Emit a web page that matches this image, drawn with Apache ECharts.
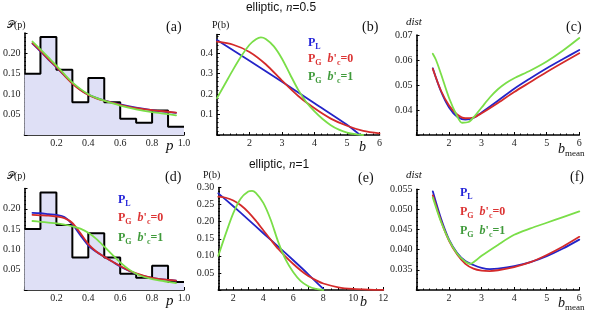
<!DOCTYPE html>
<html><head><meta charset="utf-8">
<script src="https://cdn.jsdelivr.net/npm/echarts@6/dist/echarts.min.js"></script>
<style>html,body{margin:0;padding:0;background:#fff}#c{width:600px;height:313px}</style>
</head><body><div id="c"></div>
<script>
// ---------- DATA ----------
const histLeft = [0, 0.1, 0.2, 0.3, 0.4, 0.5, 0.6, 0.7, 0.8, 0.9];
const histRight = 1.0;
const histValues = [0.15, 0.24, 0.16, 0.08, 0.14, 0.08, 0.04, 0.03, 0.06, 0.02];

// panel (a)
const aX = [0.05, 0.1, 0.15, 0.2, 0.25, 0.3, 0.35, 0.4, 0.45, 0.5, 0.6, 0.7, 0.8, 0.9, 0.95];
const aBlue = [0.224, 0.205, 0.185, 0.166, 0.146, 0.127, 0.111, 0.099, 0.091, 0.085, 0.075, 0.067, 0.061, 0.056, 0.054];
const aRed = [0.225, 0.206, 0.186, 0.167, 0.146, 0.126, 0.110, 0.098, 0.090, 0.084, 0.074, 0.066, 0.061, 0.057, 0.055];
const aGreen = [0.229, 0.210, 0.190, 0.170, 0.149, 0.129, 0.113, 0.100, 0.091, 0.084, 0.072, 0.063, 0.056, 0.051, 0.048];

// panel (b)
const bXBlue = [1, 2, 3, 4, 5, 5.4];
const bBlue = [0.463, 0.362, 0.26, 0.155, 0.05, 0.0];
const bXRed = [1, 1.5, 2, 2.5, 3, 3.5, 4, 4.5, 5, 5.5, 6];
const bRed = [0.455, 0.44, 0.405, 0.345, 0.265, 0.19, 0.13, 0.08, 0.045, 0.02, 0.008];
const bXGreen = [1, 1.25, 1.5, 1.75, 2, 2.2, 2.35, 2.5, 2.75, 3, 3.25, 3.5, 3.75, 4, 4.25, 4.5, 4.75, 5, 5.25, 5.5];
const bGreen = [0.18, 0.25, 0.32, 0.385, 0.44, 0.467, 0.476, 0.468, 0.432, 0.372, 0.295, 0.22, 0.16, 0.115, 0.078, 0.048, 0.026, 0.012, 0.004, 0.0];

// panel (c)
const cX = [1.5, 1.75, 2, 2.25, 2.5, 2.75, 3, 3.5, 4, 4.5, 5, 5.5, 6];
const cBlue = [0.0567, 0.0475, 0.0410, 0.0373, 0.0362, 0.0368, 0.0390, 0.0437, 0.0485, 0.0527, 0.0567, 0.0604, 0.0640];
const cRed = [0.0565, 0.0478, 0.0418, 0.0382, 0.0367, 0.0370, 0.0387, 0.0428, 0.0472, 0.0512, 0.0552, 0.0590, 0.0627];
const cXGreen = [1.5, 1.6, 1.75, 2, 2.25, 2.4, 2.6, 2.8, 3, 3.25, 3.5, 3.75, 4, 4.5, 5, 5.5, 6];
const cGreen = [0.0625, 0.0600, 0.0545, 0.0448, 0.0375, 0.0349, 0.0352, 0.0378, 0.0410, 0.0450, 0.0483, 0.0508, 0.0527, 0.0558, 0.0594, 0.0638, 0.0688];

// panel (d)
const dX = [0.05, 0.1, 0.15, 0.2, 0.25, 0.3, 0.35, 0.4, 0.45, 0.5, 0.55, 0.6, 0.65, 0.7, 0.75, 0.8, 0.85, 0.9, 0.95];
const dBlue = [0.190, 0.189, 0.187, 0.185, 0.180, 0.162, 0.135, 0.110, 0.094, 0.082, 0.070, 0.058, 0.048, 0.040, 0.034, 0.030, 0.027, 0.025, 0.023];
const dRed = [0.185, 0.184, 0.183, 0.181, 0.177, 0.165, 0.140, 0.113, 0.095, 0.082, 0.070, 0.059, 0.049, 0.041, 0.035, 0.030, 0.027, 0.025, 0.023];
const dGreen = [0.170, 0.168, 0.166, 0.164, 0.161, 0.157, 0.151, 0.141, 0.126, 0.107, 0.087, 0.068, 0.052, 0.040, 0.032, 0.027, 0.023, 0.020, 0.017];

// panel (e)
const eXBlue = [1, 2, 3, 4, 5, 6, 7, 8];
const eBlue = [0.283, 0.245, 0.206, 0.166, 0.127, 0.087, 0.046, 0.003];
const eXRed = [1, 1.5, 2, 2.5, 3, 3.5, 4, 4.5, 5, 5.5, 6, 6.5, 7, 7.5, 8, 9, 10, 11, 12];
const eRed = [0.273, 0.270, 0.262, 0.248, 0.228, 0.203, 0.175, 0.147, 0.120, 0.097, 0.076, 0.057, 0.041, 0.029, 0.019, 0.008, 0.003, 0.001, 0.0003];
const eXGreen = [1, 1.5, 2, 2.5, 3, 3.25, 3.5, 4, 4.5, 5, 5.5, 6, 6.5, 7, 7.5, 8];
const eGreen = [0.100, 0.165, 0.225, 0.268, 0.288, 0.290, 0.284, 0.255, 0.205, 0.140, 0.088, 0.052, 0.026, 0.011, 0.003, 0.0];

// panel (f)
const fX = [1.5, 1.75, 2, 2.25, 2.5, 2.75, 3, 3.25, 3.5, 4, 4.5, 5, 5.5, 6];
const fBlue = [0.0545, 0.0478, 0.0425, 0.0392, 0.0372, 0.0362, 0.0355, 0.0352, 0.0353, 0.0359, 0.0369, 0.0384, 0.0403, 0.0425];
const fRed = [0.0535, 0.0472, 0.0422, 0.0388, 0.0365, 0.0353, 0.0348, 0.0347, 0.0349, 0.0357, 0.0369, 0.0387, 0.0408, 0.0432];
const fXGreen = [1.5, 1.75, 2, 2.25, 2.5, 2.65, 2.8, 3, 3.5, 4, 4.5, 5, 5.5, 6];
const fGreen = [0.0530, 0.0470, 0.0423, 0.0390, 0.0370, 0.0365, 0.0372, 0.0385, 0.0412, 0.0437, 0.0453, 0.0467, 0.0481, 0.0495];

// tick labels
const xLabelsP = [0.2, 0.4, 0.6, 0.8, 1.0];
const xLabelsB = [2, 3, 4, 5, 6];
const xLabelsE = [2, 4, 6, 8, 10, 12];
const yLabelsP = [0.05, 0.10, 0.15, 0.20];
const yLabelsB = [0.1, 0.2, 0.3, 0.4];
const yLabelsC = [0.04, 0.05, 0.06, 0.07];
const yLabelsE = [0.05, 0.10, 0.15, 0.20, 0.25, 0.30];
const yLabelsF = [0.035, 0.040, 0.045, 0.050, 0.055];

// ---------- STYLE ----------
const BLUE = '#2424c8', RED = '#d42a2a', GREEN = '#7ade48';
const TBLUE = '#2222d8', TRED = '#dc3434', TGREEN = '#3f9a3a';
const SERIF = '"Liberation Serif","DejaVu Serif",serif';
const SANS = '"Liberation Sans","DejaVu Sans",sans-serif';

const grids = [
  {left: 24, top: 33, width: 160, height: 102},
  {left: 217, top: 34.5, width: 162.5, height: 100.5},
  {left: 416.5, top: 35, width: 162.8, height: 100},
  {left: 24, top: 188.5, width: 160, height: 101.5},
  {left: 218.3, top: 187.5, width: 165, height: 102.5},
  {left: 416.5, top: 189.3, width: 162.8, height: 100.7}
];

function fmt(labels, dec) {
  return function (v) {
    for (const l of labels) if (Math.abs(l - v) < 1e-9) return l.toFixed(dec);
    return '';
  };
}
function axis(kind, i, min, max, interval, labels, dec, minorSplit) {
  return {
    type: 'value', gridIndex: i, min, max, interval,
    axisLine: {show: true, onZero: false, lineStyle: {color: '#000', width: 1.6}},
    axisTick: {show: true, inside: true, length: 3, lineStyle: {color: '#000', width: 1}},
    minorTick: {show: true, splitNumber: minorSplit, length: 1.5, lineStyle: {color: '#000', width: 1}},
    splitLine: {show: false},
    axisLabel: {
      show: true, formatter: fmt(labels, dec), fontFamily: SERIF, fontSize: 10,
      color: '#222', margin: kind === 'x' ? 3 : 4, showMinLabel: true, showMaxLabel: true
    }
  };
}
const xAxes = [
  axis('x', 0, 0, 1.0, 0.1, xLabelsP, 1, 2),
  axis('x', 1, 1, 6, 1, xLabelsB, 0, 5),
  axis('x', 2, 1, 6, 1, xLabelsB, 0, 5),
  axis('x', 3, 0, 1.0, 0.1, xLabelsP, 1, 2),
  axis('x', 4, 1, 12, 1, xLabelsE, 0, 2),
  axis('x', 5, 1, 6, 1, xLabelsB, 0, 5)
];
const yAxes = [
  axis('y', 0, 0, 0.25, 0.05, yLabelsP, 2, 5),
  axis('y', 1, 0, 0.49, 0.1, yLabelsB, 1, 5),
  axis('y', 2, 0.03, 0.07, 0.01, yLabelsC, 2, 5),
  axis('y', 3, 0, 0.25, 0.05, yLabelsP, 2, 5),
  axis('y', 4, 0, 0.30, 0.05, yLabelsE, 2, 5),
  axis('y', 5, 0.030, 0.055, 0.005, yLabelsF, 3, 5)
];

function line(i, xs, ys, color, w) {
  return {
    type: 'line', xAxisIndex: i, yAxisIndex: i, data: xs.map((x, k) => [x, ys[k]]),
    showSymbol: false, symbol: 'none', smooth: 0.3, silent: true, z: 3,
    lineStyle: {color, width: w || 1.8, join: 'round', cap: 'round'}
  };
}
function hist(i) {
  const data = histLeft.map((x, k) => [x, histValues[k]]);
  data.push([histRight, histValues[histValues.length - 1]]);
  return {
    type: 'line', xAxisIndex: i, yAxisIndex: i, data, step: 'end', showSymbol: false, symbol: 'none', silent: true, z: 1,
    lineStyle: {color: '#000', width: 2}, areaStyle: {color: '#dfe0f6', opacity: 1}
  };
}

const series = [
  hist(0),
  line(0, aX, aBlue, BLUE), line(0, aX, aRed, RED), line(0, aX, aGreen, GREEN),
  line(1, bXBlue, bBlue, BLUE), line(1, bXRed, bRed, RED), line(1, bXGreen, bGreen, GREEN),
  line(2, cX, cBlue, BLUE), line(2, cX, cRed, RED), line(2, cXGreen, cGreen, GREEN),
  hist(3),
  line(3, dX, dBlue, BLUE), line(3, dX, dRed, RED), line(3, dX, dGreen, GREEN),
  line(4, eXBlue, eBlue, BLUE), line(4, eXRed, eRed, RED), line(4, eXGreen, eGreen, GREEN),
  line(5, fX, fBlue, BLUE), line(5, fX, fRed, RED), line(5, fXGreen, fGreen, GREEN)
];

// ---------- TEXT ----------
function txt(x, y, text, font, extra) {
  return {type: 'text', silent: true, z: 10,
    style: Object.assign({x, y, text, font, fill: '#111', verticalAlign: 'middle', align: 'left'}, extra || {})};
}
function legendRich(color) {
  return {
    P: {fontFamily: SERIF, fontWeight: 'bold', fontSize: 12, fill: color, lineHeight: 16, verticalAlign: 'middle'},
    s: {fontFamily: SERIF, fontWeight: 'bold', fontSize: 8, fill: color, lineHeight: 16, verticalAlign: 'bottom'},
    b: {fontFamily: SERIF, fontWeight: 'bold', fontStyle: 'italic', fontSize: 12, fill: color, lineHeight: 16, verticalAlign: 'middle'},
    t: {fontFamily: SERIF, fontWeight: 'bold', fontSize: 12, fill: color, lineHeight: 16, verticalAlign: 'middle'}
  };
}
function legend(x, ys) {
  return [
    {type: 'text', silent: true, z: 10, style: {x, y: ys[0], text: '{P|P}{s|L}', rich: legendRich(TBLUE), verticalAlign: 'middle'}},
    {type: 'text', silent: true, z: 10, style: {x, y: ys[1], text: '{P|P}{s|G}{t|  }{b|b}{t|\'}{s|c}{t|=0}', rich: legendRich(TRED), verticalAlign: 'middle'}},
    {type: 'text', silent: true, z: 10, style: {x, y: ys[2], text: '{P|P}{s|G}{t|  }{b|b}{t|\'}{s|c}{t|=1}', rich: legendRich(TGREEN), verticalAlign: 'middle'}}
  ];
}
const titleRich = {
  r: {fontFamily: SANS, fontSize: 12, fill: '#111'},
  i: {fontFamily: SERIF, fontStyle: 'italic', fontSize: 13, fill: '#111'}
};
const bmeanRich = {
  b: {fontFamily: SERIF, fontStyle: 'italic', fontSize: 14, fill: '#111', lineHeight: 18, verticalAlign: 'middle'},
  m: {fontFamily: SERIF, fontSize: 9, fill: '#111', lineHeight: 18, verticalAlign: 'bottom'}
};

const graphic = [
  txt(7, 25, '𝒫(p)', '10px ' + SERIF),
  txt(166, 27, '(a)', '14px ' + SERIF),
  txt(166, 146, 'p', 'italic 15px ' + SERIF),
  {type: 'text', silent: true, z: 10, style: {x: 281, y: 8, text: '{r|elliptic, }{i|n}{r|=0.5}', rich: titleRich, align: 'center', verticalAlign: 'middle'}},
  txt(212, 25, 'P(b)', '10px ' + SERIF),
  txt(362, 27, '(b)', '14px ' + SERIF),
  txt(359, 147, 'b', 'italic 14px ' + SERIF),
  txt(406, 22, 'dist', 'italic 11px ' + SERIF),
  txt(566, 27, '(c)', '14px ' + SERIF),
  {type: 'text', silent: true, z: 10, style: {x: 558, y: 149, text: '{b|b}{m|mean}', rich: bmeanRich, verticalAlign: 'middle'}},
  txt(7, 176, '𝒫(p)', '10px ' + SERIF),
  txt(165, 177, '(d)', '14px ' + SERIF),
  txt(166, 301, 'p', 'italic 15px ' + SERIF),
  {type: 'text', silent: true, z: 10, style: {x: 279, y: 165, text: '{r|elliptic, }{i|n}{r|=1}', rich: titleRich, align: 'center', verticalAlign: 'middle'}},
  txt(203, 175, 'P(b)', '10px ' + SERIF),
  txt(358, 178, '(e)', '14px ' + SERIF),
  txt(360, 302, 'b', 'italic 14px ' + SERIF),
  txt(406, 175, 'dist', 'italic 11px ' + SERIF),
  txt(570, 177, '(f)', '14px ' + SERIF),
  {type: 'text', silent: true, z: 10, style: {x: 558, y: 303, text: '{b|b}{m|mean}', rich: bmeanRich, verticalAlign: 'middle'}}
].concat(legend(308, [43, 59, 77]), legend(118, [200, 218, 238]), legend(460, [193, 212, 231]));

const chart = echarts.init(document.getElementById('c'), null, {renderer: 'canvas'});
chart.setOption({
  animation: false,
  backgroundColor: '#fff',
  grid: grids.map(g => Object.assign({containLabel: false}, g)),
  xAxis: xAxes, yAxis: yAxes, series, graphic
});
</script></body></html>
